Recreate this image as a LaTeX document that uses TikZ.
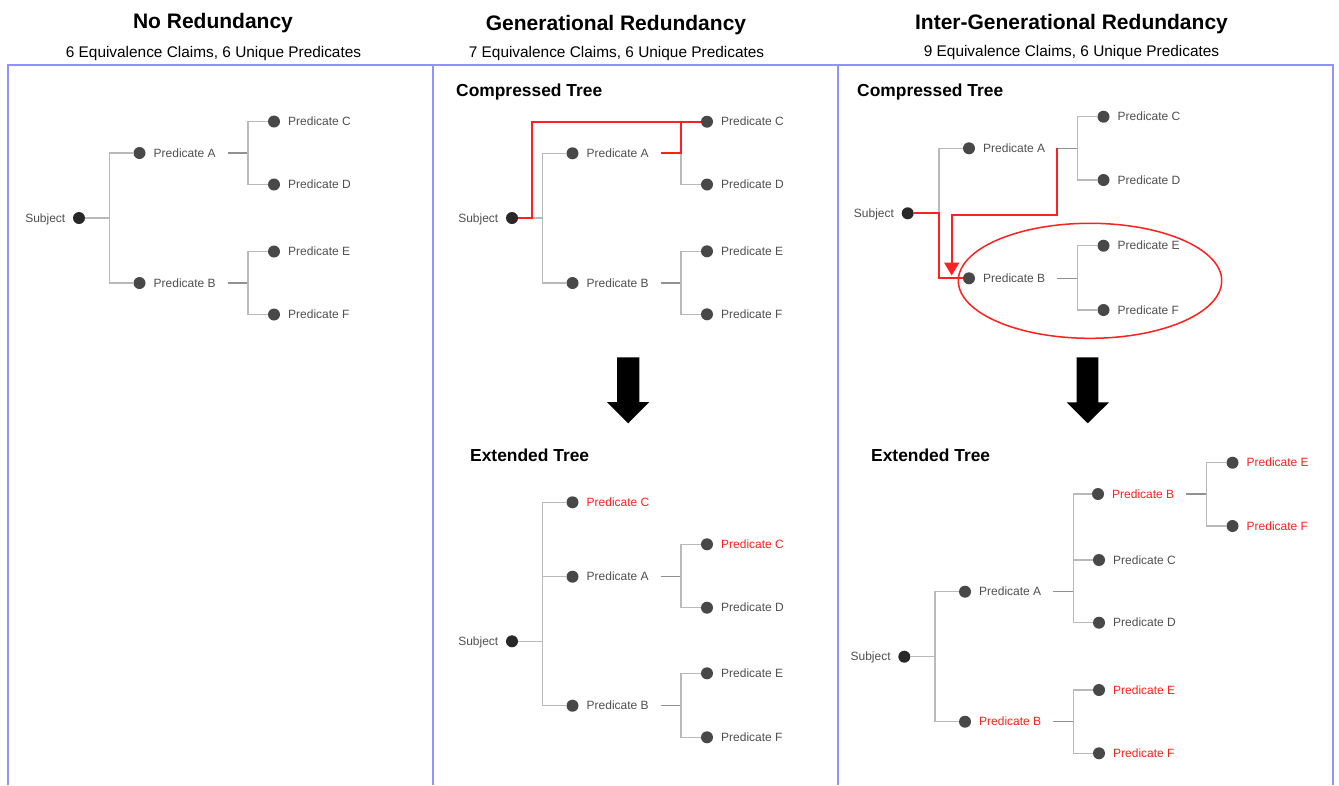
\documentclass[tikz,border=0pt]{standalone}
\usepackage{fontspec}
\setmainfont{Liberation Sans}
\usetikzlibrary{calc,arrows.meta,shapes.geometric}

\definecolor{panelblue}{RGB}{145,145,255}
\definecolor{twig}{RGB}{185,185,185}
\definecolor{stubgray}{RGB}{145,145,145}
\definecolor{dotgray}{RGB}{72,72,72}
\definecolor{rootgray}{RGB}{40,40,40}
\definecolor{lbltext}{RGB}{80,80,80}
\definecolor{hl}{RGB}{255,32,32}

\tikzset{
  dotnode/.style={circle,fill=dotgray,minimum size=12pt,inner sep=0pt},
  rootnode/.style={circle,fill=rootgray,minimum size=12pt,inner sep=0pt},
  lbl/.style={anchor=west,inner sep=0pt,text height=8.5pt,text depth=0pt,
              font=\fontsize{12}{14}\selectfont,text=lbltext},
  twigline/.style={draw=twig,line width=1.4pt},
  stubline/.style={draw=stubgray,line width=1.3pt},
  hlline/.style={draw=hl,line width=1.8pt},
  panel/.style={draw=panelblue,line width=2pt},
  maintitle/.style={anchor=base,inner sep=0pt,font=\fontsize{21}{24}\selectfont\bfseries},
  subtitle/.style={anchor=base,inner sep=0pt,font=\fontsize{15.4}{18}\selectfont},
  treetitle/.style={anchor=base west,inner sep=0pt,font=\fontsize{17.4}{20}\selectfont\bfseries},
  bigarrow/.style={fill=black}
}

% root dot with its "Subject" label on the left
\newcommand\rootdot[3]{%
  \node[rootnode] (#1) at (#2,#3) {};
  \node[lbl,anchor=east] (#1-t) at (#2-13.5,#3) {Subject};}
% predicate dot with its label on the right
\newcommand\pdot[5]{%
  \node[dotnode] (#1) at (#2,#3) {};
  \node[lbl,text=#5] (#1-t) at (#2+14,#3) {#4};}
% stub start and branch point behind a predicate label
\newcommand\forkpts[3]{%
  \coordinate (#1-k) at (#2+88,#3);
  \coordinate (#1-v) at (#2+108.5,#3);}

\begin{document}
\begin{tikzpicture}[x=1pt,y=-1pt]
\useasboundingbox (0,0) rectangle (1339,785);
\fill[white] (0,0) rectangle (1339,785);

% ---------- panel frame ----------
\draw[panel] (7.5,785) -- (7.5,64.5) -- (1333,64.5) -- (1333,785);
\draw[panel] (433,64.5) -- (433,785);
\draw[panel] (837.5,64.5) -- (837.5,785);

% ---------- headings ----------
\node[maintitle] (h1) at (213,28.5) {No Redundancy};
\node[subtitle] (s1h) at (213.5,57) {6 Equivalence Claims, 6 Unique Predicates};
\node[maintitle] (h2) at (616,30) {Generational Redundancy};
\node[subtitle] (s2h) at (616.5,57) {7 Equivalence Claims, 6 Unique Predicates};
\node[maintitle] (h3) at (1071.5,29) {Inter-Generational Redundancy};
\node[subtitle] (s3h) at (1071.5,56) {9 Equivalence Claims, 6 Unique Predicates};

\node[treetitle] (ct2) at (456,96) {Compressed Tree};
\node[treetitle] (et2) at (470,461) {Extended Tree};
\node[treetitle] (ct3) at (857,96) {Compressed Tree};
\node[treetitle] (et3) at (871,461) {Extended Tree};

% ---------- panel 1: no redundancy ----------
\rootdot{r1}{79}{218}
\pdot{a1}{139.5}{153}{Predicate A}{lbltext}
\pdot{b1}{139.5}{283}{Predicate B}{lbltext}
\pdot{c1}{274}{121.5}{Predicate C}{lbltext}
\pdot{d1}{274}{184.5}{Predicate D}{lbltext}
\pdot{e1}{274}{251.5}{Predicate E}{lbltext}
\pdot{f1}{274}{314.5}{Predicate F}{lbltext}
\coordinate (r1-v) at (109.5,218);
\forkpts{a1}{139.5}{153}
\forkpts{b1}{139.5}{283}
\draw[twigline] (r1) -- (r1-v) (r1-v) |- (a1) (r1-v) |- (b1);
\draw[stubline] (a1-k) -- (a1-v);
\draw[stubline] (b1-k) -- (b1-v);
\draw[twigline] (a1-v) |- (c1) (a1-v) |- (d1);
\draw[twigline] (b1-v) |- (e1) (b1-v) |- (f1);

% ---------- panel 2: compressed tree ----------
\rootdot{r2}{512}{218}
\pdot{a2}{572.5}{153.3}{Predicate A}{lbltext}
\pdot{b2}{572.5}{283}{Predicate B}{lbltext}
\pdot{c2}{707}{121.7}{Predicate C}{lbltext}
\pdot{d2}{707}{184.5}{Predicate D}{lbltext}
\pdot{e2}{707}{251.3}{Predicate E}{lbltext}
\pdot{f2}{707}{314.3}{Predicate F}{lbltext}
\coordinate (r2-v) at (542.3,218);
\forkpts{a2}{572.5}{153.3}
\forkpts{b2}{572.5}{283}
\draw[twigline] (r2) -- (r2-v) (r2-v) |- (a2) (r2-v) |- (b2);
\draw[stubline] (a2-k) -- (a2-v);
\draw[stubline] (b2-k) -- (b2-v);
\draw[twigline] (a2-v) |- (c2) (a2-v) |- (d2);
\draw[twigline] (b2-v) |- (e2) (b2-v) |- (f2);
% highlighted shortcut to Predicate C
\coordinate (r2-h) at (532,218);
\draw[hlline] (r2) -- (r2-h) |- (c2);
\draw[hlline] (a2-k) -- (a2-v) |- (c2);

% transition arrow
\fill[bigarrow] (617,357.3) -- (639.3,357.3) -- (639.3,402) -- (649.3,402)
  -- (628.2,423.3) -- (607,402) -- (617,402) -- cycle;

% ---------- panel 2: extended tree ----------
\rootdot{r4}{512}{641.3}
\pdot{x4}{572.5}{502.3}{Predicate C}{hl}
\pdot{a4}{572.5}{576.7}{Predicate A}{lbltext}
\pdot{b4}{572.5}{705.7}{Predicate B}{lbltext}
\pdot{c4}{707}{544.3}{Predicate C}{hl}
\pdot{d4}{707}{607.7}{Predicate D}{lbltext}
\pdot{e4}{707}{673.3}{Predicate E}{lbltext}
\pdot{f4}{707}{737.3}{Predicate F}{lbltext}
\coordinate (r4-v) at (542.3,641.3);
\forkpts{a4}{572.5}{576.7}
\forkpts{b4}{572.5}{705.7}
\draw[twigline] (r4) -- (r4-v) (r4-v) |- (x4) (r4-v) |- (a4) (r4-v) |- (b4);
\draw[stubline] (a4-k) -- (a4-v);
\draw[stubline] (b4-k) -- (b4-v);
\draw[twigline] (a4-v) |- (c4) (a4-v) |- (d4);
\draw[twigline] (b4-v) |- (e4) (b4-v) |- (f4);

% ---------- panel 3: compressed tree ----------
\rootdot{r3}{907.7}{213.3}
\pdot{a3}{969}{148.3}{Predicate A}{lbltext}
\pdot{b3}{969}{278.3}{Predicate B}{lbltext}
\pdot{c3}{1103.5}{116.7}{Predicate C}{lbltext}
\pdot{d3}{1103.5}{180}{Predicate D}{lbltext}
\pdot{e3}{1103.5}{245.7}{Predicate E}{lbltext}
\pdot{f3}{1103.5}{310}{Predicate F}{lbltext}
\coordinate (r3-v) at (939,213.3);
\forkpts{a3}{969}{148.3}
\forkpts{b3}{969}{278.3}
\draw[twigline] (r3) -- (r3-v) (r3-v) |- (a3) (r3-v) |- (b3);
\draw[stubline] (a3-k) -- (a3-v);
\draw[stubline] (b3-k) -- (b3-v);
\draw[twigline] (a3-v) |- (c3) (a3-v) |- (d3);
\draw[twigline] (b3-v) |- (e3) (b3-v) |- (f3);
% highlighted path and redirect arrow
\draw[hlline] (r3) -- (r3-v) |- (b3);
\coordinate (a3-turn) at (951.7,215);
\coordinate (b3-in) at (951.7,275.5);
\draw[hlline,-{Triangle[width=15pt,length=13pt]}] (a3-k) |- (a3-turn) -- (b3-in);
\node[draw=hl,line width=1.5pt,ellipse,minimum width=263.4pt,minimum height=115pt,inner sep=0pt]
  (grp3) at (1090,280.8) {};

% transition arrow
\fill[bigarrow] (1076.7,357.3) -- (1098.3,357.3) -- (1098.3,402.3) -- (1109,402.3)
  -- (1087.8,423.3) -- (1066.7,402.3) -- (1076.7,402.3) -- cycle;

% ---------- panel 3: extended tree ----------
\rootdot{r5}{904.3}{656.7}
\pdot{a5}{965}{591.7}{Predicate A}{lbltext}
\pdot{b5}{965}{721.7}{Predicate B}{hl}
\pdot{y5}{1098}{494}{Predicate B}{hl}
\pdot{c5}{1099}{560}{Predicate C}{lbltext}
\pdot{d5}{1099}{622.7}{Predicate D}{lbltext}
\pdot{g5}{1232.5}{462.7}{Predicate E}{hl}
\pdot{h5}{1232.5}{526}{Predicate F}{hl}
\pdot{e5}{1099}{690}{Predicate E}{hl}
\pdot{f5}{1099}{753.3}{Predicate F}{hl}
\coordinate (r5-v) at (935,656.7);
\forkpts{a5}{965}{591.7}
\forkpts{b5}{965}{721.7}
\forkpts{y5}{1098}{494}
\draw[twigline] (r5) -- (r5-v) (r5-v) |- (a5) (r5-v) |- (b5);
\draw[stubline] (a5-k) -- (a5-v);
\draw[stubline] (b5-k) -- (b5-v);
\draw[stubline] (y5-k) -- (y5-v);
\draw[twigline] (a5-v) |- (y5) (a5-v) |- (c5) (a5-v) |- (d5);
\draw[twigline] (y5-v) |- (g5) (y5-v) |- (h5);
\draw[twigline] (b5-v) |- (e5) (b5-v) |- (f5);

\end{tikzpicture}
\end{document}
